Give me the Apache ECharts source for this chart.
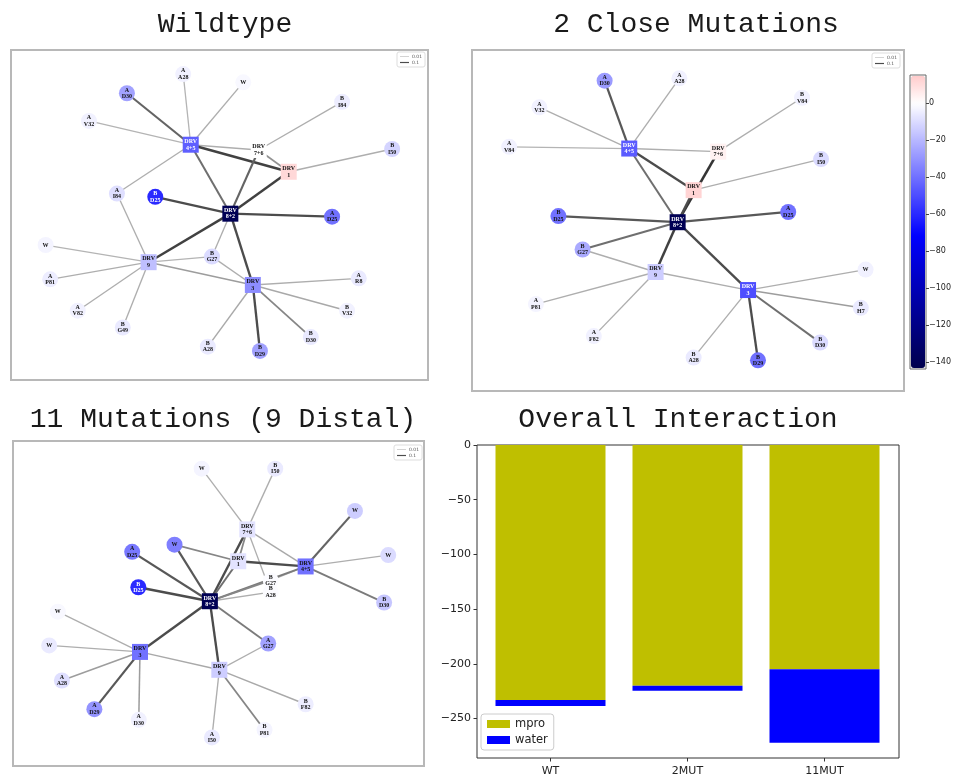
<!DOCTYPE html>
<html>
<head>
<meta charset="utf-8">
<script src="https://cdn.jsdelivr.net/npm/echarts@6/dist/echarts.min.js"></script>
<style>
  html, body { margin: 0; padding: 0; background: #fff; }
  #chart { width: 956px; height: 781px; }
</style>
</head>
<body>
<div id="chart"></div>
<script>
// Interaction networks: [id, label, layout x, layout y, interaction energy]
const wtNodes = [
  ['a28a', 'A\nA28', 41.3, 92.7, -4],
  ['w1', 'W', 55.7, 90.2, -2],
  ['d30a', 'A\nD30', 27.8, 86.9, -26],
  ['i84b', 'B\nI84', 79.4, 84.3, -5],
  ['v32a', 'A\nV32', 18.7, 78.5, -4],
  ['drv45', 'DRV\n4+5', 43.1, 71.3, -45],
  ['drv76', 'DRV\n7+6', 59.4, 69.7, 0],
  ['i50b', 'B\nI50', 91.4, 70.0, -12],
  ['drv1', 'DRV\n1', 66.6, 63.1, 11],
  ['i84a', 'A\nI84', 25.4, 56.5, -9],
  ['d25b', 'B\nD25', 34.6, 55.5, -60],
  ['drv82', 'DRV\n8+2', 52.6, 50.4, -140],
  ['d25a', 'A\nD25', 77.0, 49.5, -40],
  ['w2', 'W', 8.3, 40.9, -3],
  ['g27b', 'B\nG27', 48.2, 37.4, -10],
  ['drv9', 'DRV\n9', 33.0, 35.7, -18],
  ['p81a', 'A\nP81', 9.4, 30.5, -5],
  ['drv3', 'DRV\n3', 58.0, 28.8, -32],
  ['r8a', 'A\nR8', 83.4, 30.8, -6],
  ['v82a', 'A\nV82', 16.0, 21.0, -4],
  ['v32b', 'B\nV32', 80.6, 21.0, -4],
  ['g49b', 'B\nG49', 26.8, 15.9, -6],
  ['d30b', 'B\nD30', 71.9, 13.0, -6],
  ['a28b', 'B\nA28', 47.2, 10.1, -6],
  ['d29b', 'B\nD29', 59.7, 8.8, -26]
];
// [source, target, interaction weight]
const wtEdges = [
  ['drv45', 'a28a', 0.01], ['drv45', 'w1', 0.015], ['drv45', 'd30a', 0.08],
  ['drv45', 'v32a', 0.01], ['drv45', 'drv76', 0.015], ['drv45', 'drv1', 0.11],
  ['drv45', 'drv82', 0.07], ['drv45', 'i84a', 0.015], ['drv76', 'i84b', 0.015],
  ['drv76', 'drv1', 0.04], ['drv76', 'drv82', 0.08], ['drv1', 'i50b', 0.015],
  ['drv1', 'drv82', 0.11], ['drv82', 'd25b', 0.1], ['drv82', 'd25a', 0.1],
  ['drv82', 'drv9', 0.11], ['drv82', 'g27b', 0.015], ['drv82', 'drv3', 0.1],
  ['i84a', 'drv9', 0.015], ['drv9', 'w2', 0.01], ['drv9', 'g27b', 0.01],
  ['drv9', 'p81a', 0.015], ['drv9', 'v82a', 0.015], ['drv9', 'g49b', 0.015],
  ['drv9', 'drv3', 0.03], ['g27b', 'drv3', 0.015], ['drv3', 'r8a', 0.015],
  ['drv3', 'v32b', 0.02], ['drv3', 'd30b', 0.05], ['drv3', 'a28b', 0.02],
  ['drv3', 'd29b', 0.1]
];

const closeNodes = [
  ['d30a', 'A\nD30', 30.7, 91.0, -28],
  ['a28a', 'A\nA28', 48.0, 91.7, -4],
  ['v84b', 'B\nV84', 76.4, 86.0, -4],
  ['v32a', 'A\nV32', 15.6, 83.2, -4],
  ['v84a', 'A\nV84', 8.6, 71.6, -4],
  ['drv45', 'DRV\n4+5', 36.4, 71.1, -46],
  ['drv76', 'DRV\n7+6', 57.0, 70.2, 4],
  ['i50b', 'B\nI50', 80.8, 68.0, -10],
  ['drv1', 'DRV\n1', 51.3, 58.9, 12],
  ['d25b', 'B\nD25', 20.0, 51.3, -40],
  ['d25a', 'A\nD25', 73.2, 52.5, -40],
  ['drv82', 'DRV\n8+2', 47.6, 49.5, -140],
  ['g27b', 'B\nG27', 25.6, 41.5, -24],
  ['drv9', 'DRV\n9', 42.5, 34.9, -14],
  ['w1', 'W', 91.1, 35.6, -4],
  ['drv3', 'DRV\n3', 63.9, 29.6, -50],
  ['p81a', 'A\nP81', 14.8, 25.5, -3],
  ['h7b', 'B\nH7', 90.0, 24.4, -6],
  ['f82a', 'A\nF82', 28.2, 16.1, -4],
  ['d30b', 'B\nD30', 80.6, 14.2, -10],
  ['a28b', 'B\nA28', 51.3, 9.8, -6],
  ['d29b', 'B\nD29', 66.2, 9.0, -40]
];
const closeEdges = [
  ['drv45', 'd30a', 0.09], ['drv45', 'a28a', 0.015], ['drv45', 'v32a', 0.015],
  ['drv45', 'v84a', 0.01], ['drv45', 'drv76', 0.015], ['drv45', 'drv1', 0.1],
  ['drv45', 'drv82', 0.07], ['drv76', 'v84b', 0.015], ['drv76', 'drv82', 0.12],
  ['drv1', 'drv82', 0.1], ['drv1', 'i50b', 0.015], ['drv82', 'd25b', 0.09],
  ['drv82', 'd25a', 0.09], ['drv82', 'g27b', 0.07], ['drv82', 'drv9', 0.11],
  ['drv82', 'drv3', 0.1], ['g27b', 'drv9', 0.015], ['drv9', 'drv3', 0.015],
  ['drv9', 'p81a', 0.015], ['drv9', 'f82a', 0.015], ['drv3', 'w1', 0.015],
  ['drv3', 'h7b', 0.03], ['drv3', 'd30b', 0.07], ['drv3', 'a28b', 0.015],
  ['drv3', 'd29b', 0.1]
];

const distalNodes = [
  ['w1', 'W', 45.9, 91.5, -3],
  ['i50b', 'B\nI50', 63.8, 91.5, -6],
  ['w2', 'W', 83.2, 78.5, -14],
  ['drv76', 'DRV\n7+6', 57.0, 72.8, -8],
  ['w3', 'W', 39.3, 68.1, -36],
  ['d25a', 'A\nD25', 29.0, 65.9, -38],
  ['w4', 'W', 91.3, 64.9, -10],
  ['drv1', 'DRV\n1', 54.8, 63.0, -8],
  ['drv45', 'DRV\n4+5', 71.2, 61.4, -40],
  ['g27b', 'B\nG27', 62.7, 57.1, -1],
  ['a28b', 'B\nA28', 62.7, 53.5, -1],
  ['d25b', 'B\nD25', 30.5, 55.0, -60],
  ['drv82', 'DRV\n8+2', 47.9, 50.7, -140],
  ['d30b', 'B\nD30', 90.3, 50.3, -16],
  ['w5', 'W', 10.9, 47.5, -2],
  ['g27a', 'A\nG27', 62.1, 37.7, -26],
  ['w6', 'W', 8.8, 37.1, -6],
  ['drv3', 'DRV\n3', 30.9, 35.1, -40],
  ['drv9', 'DRV\n9', 50.2, 29.6, -14],
  ['a28a', 'A\nA28', 11.9, 26.3, -9],
  ['f82b', 'B\nF82', 71.2, 19.0, -5],
  ['d29a', 'A\nD29', 19.8, 17.5, -30],
  ['d30a', 'A\nD30', 30.6, 14.2, -4],
  ['p81b', 'B\nP81', 61.2, 11.1, -3],
  ['i50a', 'A\nI50', 48.4, 8.8, -6]
];
const distalEdges = [
  ['drv76', 'w1', 0.015], ['drv76', 'i50b', 0.015], ['drv76', 'drv82', 0.1],
  ['drv76', 'drv1', 0.05], ['drv76', 'drv45', 0.02], ['drv76', 'a28b', 0.015],
  ['w3', 'drv82', 0.09], ['w3', 'drv1', 0.05], ['d25a', 'drv82', 0.09],
  ['drv1', 'drv45', 0.1], ['drv1', 'drv82', 0.07], ['drv45', 'w2', 0.08],
  ['drv45', 'w4', 0.015], ['drv45', 'd30b', 0.06], ['drv45', 'g27b', 0.015],
  ['drv45', 'drv82', 0.06], ['g27b', 'drv82', 0.05], ['a28b', 'drv82', 0.015],
  ['d25b', 'drv82', 0.1], ['drv82', 'drv3', 0.1], ['drv82', 'drv9', 0.1],
  ['drv82', 'g27a', 0.06], ['g27a', 'drv9', 0.015], ['drv3', 'w5', 0.015],
  ['drv3', 'w6', 0.015], ['drv3', 'a28a', 0.03], ['drv3', 'd29a', 0.09],
  ['drv3', 'd30a', 0.03], ['drv3', 'drv9', 0.02], ['drv9', 'f82b', 0.02],
  ['drv9', 'p81b', 0.05], ['drv9', 'i50a', 0.015]
];

const panelTitles = ['Wildtype', '2 Close Mutations', '11 Mutations (9 Distal)', 'Overall Interaction'];
const weightLegend = ['0.01', '0.1'];

// Overall interaction (stacked)
const barCategories = ['WT', '2MUT', '11MUT'];
const mproValues = [-233, -220, -205];
const waterValues = [-5.5, -4.5, -67];
const barTicks = [0, -50, -100, -150, -200, -250];

// Colour scale for node energies
const energyMin = -143.2;
const energyMax = 14.6;
const colorbarTicks = [0, -20, -40, -60, -80, -100, -120, -140];

// seismic-style diverging map, symmetric about zero
function seismic(v) {
  const t = Math.max(0, Math.min(1, (v + 143.2) / 286.4));
  let r, g, b;
  if (t < 0.25) { const f = t / 0.25; r = 0; g = 0; b = 0.3 + 0.7 * f; }
  else if (t < 0.5) { const f = (t - 0.25) / 0.25; r = f; g = f; b = 1; }
  else if (t < 0.75) { const f = (t - 0.5) / 0.25; r = 1; g = 1 - f; b = 1 - f; }
  else { const f = (t - 0.75) / 0.25; r = 1 - 0.5 * f; g = 0; b = 0; }
  const c = x => Math.round(x * 255);
  return 'rgb(' + c(r) + ',' + c(g) + ',' + c(b) + ')';
}
const rampColors = [];
for (let i = 0; i <= 64; i++) rampColors.push(seismic(energyMin + (energyMax - energyMin) * i / 64));

function edgeStyle(w) {
  const t = Math.max(0, Math.min(1, (w - 0.01) / 0.12));
  const g = Math.round(180 - t * 138);
  return { color: 'rgb(' + g + ',' + g + ',' + g + ')', width: 1.3 + t * 1.4 };
}

const minus = v => (v < 0 ? '\u2212' + (-v) : String(v));

function networkSeries(nodes, edges, idx) {
  return {
    type: 'graph',
    coordinateSystem: 'cartesian2d',
    xAxisIndex: idx,
    yAxisIndex: idx,
    layout: 'none',
    roam: false,
    silent: true,
    z: 3,
    data: nodes.map(n => {
      const isDrv = n[1].indexOf('DRV') === 0;
      return {
        name: n[0],
        value: [n[2], n[3]],
        symbol: isDrv ? 'rect' : 'circle',
        symbolSize: 16,
        itemStyle: { color: seismic(n[4]), opacity: 1 },
        label: { formatter: n[1], color: n[4] <= -44 ? '#ffffff' : '#111111' }
      };
    }),
    links: edges.map(e => ({ source: e[0], target: e[1], lineStyle: edgeStyle(e[2]) })),
    lineStyle: { opacity: 1, curveness: 0 },
    label: {
      show: true,
      position: 'inside',
      fontFamily: 'Liberation Serif',
      fontWeight: 'bold',
      fontSize: 6,
      lineHeight: 6.5
    },
    emphasis: { disabled: true }
  };
}

const panelGrids = [
  { left: 11, top: 50, width: 417, height: 330 },
  { left: 472, top: 50, width: 432, height: 341 },
  { left: 13, top: 441, width: 411, height: 325 }
];
const gridBase = { show: true, backgroundColor: '#ffffff', borderColor: '#b8b8b8', borderWidth: 2, containLabel: false };

const grids = panelGrids.map(g => Object.assign({}, gridBase, g));
// bar plot area (bands) and its surrounding frame
grids.push({ left: 482, top: 445, width: 411, height: 313, show: false, containLabel: false });
grids.push({ left: 910, top: 75, width: 16, height: 294, show: true, borderColor: '#666', borderWidth: 1, containLabel: false });
grids.push({ left: 477, top: 445, width: 422, height: 313, show: true, borderColor: '#333', borderWidth: 1, containLabel: false });

const xAxes = [0, 1, 2].map(i => ({ type: 'value', gridIndex: i, min: 0, max: 100, show: false }));
const yAxes = [0, 1, 2].map(i => ({ type: 'value', gridIndex: i, min: 0, max: 100, show: false }));

xAxes.push({
  type: 'category', gridIndex: 3, data: barCategories, position: 'bottom',
  axisLine: { show: false, onZero: false },
  axisTick: { show: true, alignWithLabel: true, length: 3.5, lineStyle: { color: '#333' } },
  axisLabel: { fontSize: 11, color: '#222', fontFamily: 'DejaVu Sans', margin: 8 }
});
yAxes.push({
  type: 'value', gridIndex: 3, min: -286, max: 0, offset: 5,
  splitLine: { show: false },
  axisLine: { show: false, onZero: false },
  axisTick: { show: true, length: 3.5, customValues: barTicks, lineStyle: { color: '#333' } },
  axisLabel: { fontSize: 11, color: '#222', fontFamily: 'DejaVu Sans', margin: 6, customValues: barTicks, formatter: minus }
});

xAxes.push({ type: 'value', gridIndex: 4, min: 0, max: 1, show: false });
yAxes.push({
  type: 'value', gridIndex: 4, position: 'right', min: -143.8, max: 15.1,
  splitLine: { show: false },
  axisLine: { show: false, onZero: false },
  axisTick: { show: true, inside: false, length: 3, customValues: colorbarTicks, lineStyle: { color: '#444' } },
  axisLabel: { fontSize: 8, color: '#222', fontFamily: 'DejaVu Sans', margin: 3, customValues: colorbarTicks, formatter: minus }
});

xAxes.push({ type: 'value', gridIndex: 5, min: 0, max: 1, show: false });
yAxes.push({ type: 'value', gridIndex: 5, min: 0, max: 1, show: false });

const titleBase = { padding: 0, textAlign: 'center', textStyle: { fontFamily: 'Liberation Mono', fontSize: 28, fontWeight: 'normal', color: '#1a1a1a' } };
const titlePos = [[225, 11], [696, 11], [223, 406], [678, 406]];

const weightLegendBase = {
  orient: 'vertical', padding: [2, 3], itemGap: 1, itemWidth: 9, itemHeight: 3,
  borderColor: '#dddddd', borderWidth: 1, borderRadius: 2, backgroundColor: '#ffffff',
  selectedMode: false,
  textStyle: { fontSize: 4.5, color: '#555', fontFamily: 'DejaVu Sans', padding: [0, 0, 0, -2] },
  data: [
    { name: weightLegend[0], icon: 'path://M0,0H20V1.3H0Z' },
    { name: weightLegend[1], icon: 'path://M0,0H20V2.6H0Z' }
  ]
};
const weightLegendPos = [[397, 52], [872, 53], [394, 445]];

const series = [
  networkSeries(wtNodes, wtEdges, 0),
  networkSeries(closeNodes, closeEdges, 1),
  networkSeries(distalNodes, distalEdges, 2),
  {
    type: 'line', name: weightLegend[0], xAxisIndex: 0, yAxisIndex: 0, data: [],
    itemStyle: { color: edgeStyle(0.01).color }, lineStyle: { color: edgeStyle(0.01).color }
  },
  {
    type: 'line', name: weightLegend[1], xAxisIndex: 0, yAxisIndex: 0, data: [],
    itemStyle: { color: edgeStyle(0.1).color }, lineStyle: { color: edgeStyle(0.1).color }
  },
  {
    type: 'bar', name: 'mpro', xAxisIndex: 3, yAxisIndex: 3, stack: 'total',
    barWidth: 110, data: mproValues, itemStyle: { color: '#bfbf00' }
  },
  {
    type: 'bar', name: 'water', xAxisIndex: 3, yAxisIndex: 3, stack: 'total',
    barWidth: 110, data: waterValues, itemStyle: { color: '#0000ff' }
  },
  // colour-scale holder for the energy bar
  { type: 'scatter', name: 'energy', xAxisIndex: 4, yAxisIndex: 4, data: [], silent: true }
];

const option = {
  backgroundColor: '#ffffff',
  animation: false,
  title: panelTitles.map((t, i) => Object.assign({}, titleBase, { text: t, left: titlePos[i][0], top: titlePos[i][1] })),
  grid: grids,
  xAxis: xAxes,
  yAxis: yAxes,
  legend: weightLegendPos.map(p => Object.assign({}, weightLegendBase, { left: p[0], top: p[1] })).concat([{
    orient: 'vertical', left: 481, top: 714, padding: [4, 6], itemGap: 4, itemWidth: 23, itemHeight: 8,
    borderColor: '#cccccc', borderWidth: 1, borderRadius: 3, backgroundColor: '#ffffff',
    selectedMode: false, icon: 'rect', z: 5,
    textStyle: { fontSize: 11.5, color: '#222', fontFamily: 'DejaVu Sans' },
    data: ['mpro', 'water']
  }]),
  visualMap: {
    type: 'continuous',
    seriesIndex: [7],
    dimension: 1,
    min: energyMin,
    max: energyMax,
    calculable: false,
    text: null,
    orient: 'vertical',
    left: 911,
    top: 76,
    itemWidth: 14,
    itemHeight: 292,
    padding: 0,
    inRange: { color: rampColors }
  },
  series: series
};

const chart = echarts.init(document.getElementById('chart'), null, { renderer: 'canvas' });
chart.setOption(option);
</script>
</body>
</html>
